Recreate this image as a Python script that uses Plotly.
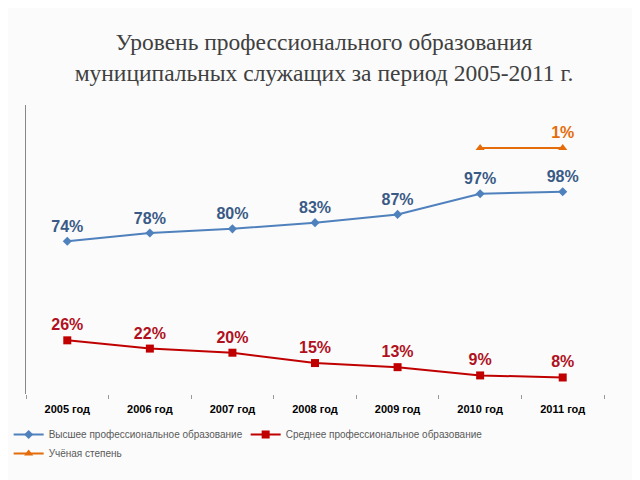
import plotly.graph_objects as go

years = ["2005 год", "2006 год", "2007 год", "2008 год", "2009 год", "2010 год", "2011 год"]
higher = [74, 78, 80, 83, 87, 97, 98]
secondary = [26, 22, 20, 15, 13, 9, 8]
degree_years = ["2010 год", "2011 год"]
degree = [1, 1]
degree_labels = ["", "1%"]

names = ["Высшее профессиональное образование",
         "Среднее профессиональное образование",
         "Учёная степень"]

fig = go.Figure()
fig.add_trace(go.Scatter(
    x=years, y=higher, name=names[0], mode="lines+markers+text",
    line=dict(color="#4f81bd", width=2),
    marker=dict(symbol="diamond", size=7, color="#4f81bd"),
    text=[f"{v}%" for v in higher], textposition="top center",
    textfont=dict(family="Liberation Sans", size=16, color="#3a5a86", weight="bold"),
    cliponaxis=False,
))
fig.add_trace(go.Scatter(
    x=years, y=secondary, name=names[1], mode="lines+markers+text",
    line=dict(color="#c00000", width=2),
    marker=dict(symbol="square", size=8, color="#c00000"),
    text=[f"{v}%" for v in secondary], textposition="top center",
    textfont=dict(family="Liberation Sans", size=16, color="#b01020", weight="bold"),
    cliponaxis=False,
))
fig.add_trace(go.Scatter(
    x=degree_years, y=degree, name=names[2], mode="lines+markers+text",
    line=dict(color="#e46c0a", width=2),
    marker=dict(symbol="triangle-up", size=8, color="#e46c0a"),
    text=degree_labels, textposition="top center",
    textfont=dict(family="Liberation Sans", size=16, color="#e46c0a", weight="bold"),
    yaxis="y2", cliponaxis=False,
))

fig.update_layout(
    width=632, height=472,
    paper_bgcolor="#fbfbfb", plot_bgcolor="rgba(0,0,0,0)",
    margin=dict(l=17.5, r=35.5, t=97, b=86, autoexpand=False),
    title=dict(
        text="Уровень профессионального образования<br>муниципальных служащих за период 2005-2011 г.",
        x=0.5, xanchor="center", y=0.911, yanchor="middle",
        font=dict(family="Liberation Serif", size=23.5, color="#404040"),
    ),
    xaxis=dict(
        type="category", range=[-0.5, 6.5], showgrid=False, showline=False, zeroline=False,
        ticks="outside", tickson="boundaries", ticklen=4, tickcolor="#999999",
        ticklabelstandoff=7,
        tickfont=dict(family="Liberation Sans", size=11, color="#000000", weight="bold"),
    ),
    yaxis=dict(
        range=[0, 140], showgrid=False, zeroline=False, showticklabels=False,
        showline=True, linecolor="#888888", linewidth=1, ticks="",
    ),
    yaxis2=dict(
        range=[0, 1.175], overlaying="y", side="right", showgrid=False,
        zeroline=False, showticklabels=False, showline=False, ticks="",
    ),
    showlegend=True,
    legend=dict(
        orientation="h", x=-0.030, xanchor="left", y=-0.090, yanchor="top",
        font=dict(family="Liberation Sans", size=10, color="#595959"),
        entrywidth=192, entrywidthmode="pixels", tracegroupgap=0,
        bgcolor="rgba(0,0,0,0)",
    ),
)

fig.write_html("out.html")
